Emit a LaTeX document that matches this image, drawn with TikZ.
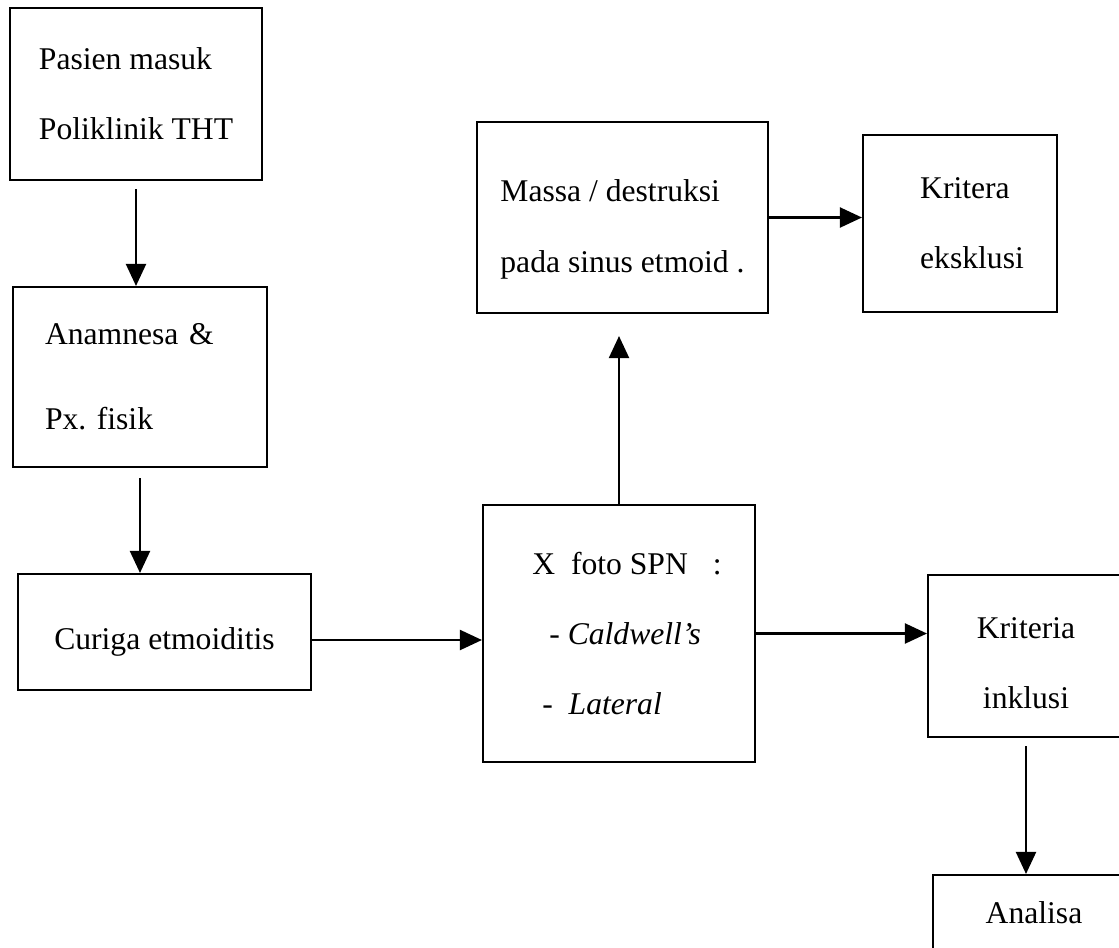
\documentclass[tikz,border=0pt]{standalone}
\usepackage{fontspec}
\setmainfont{Liberation Serif}
\usetikzlibrary{arrows.meta}
\begin{document}
\begin{tikzpicture}[x=0.02cm, y=-0.02cm,
    kotak/.style 2 args={draw, line width=1.2pt, inner sep=0pt,
      minimum width=#1*0.02cm, minimum height=#2*0.02cm,
      font=\fontsize{18}{40}\selectfont},
    panah/.style={-{Triangle[length=0.44cm,width=0.4cm]}, line width=1.2pt}]
    \useasboundingbox (0,0) rectangle (1119,947);
    \clip (0,0) rectangle (1119,947);
    \node[kotak={252}{172}, align=left] (A0_0) at (136,94) {Pasien masuk\\Poliklinik THT};
    \node[kotak={254}{180}, align=left, text width=3.8cm] (A1_0) at (140,377) {Anamnesa \&\\[0.3cm]Px.\ fisik};
    \node[kotak={293}{116}] (A2_0) at (164.5,632) {\rule{0pt}{0.83cm}Curiga etmoiditis};
    \node[kotak={272}{257}, align=left] (A2_1) at (619,633.5) {\hspace{0.32cm}X\ \ foto SPN\hspace{0.5cm}:\\
      \hspace{0.66cm}\textit{- Caldwell's}\\
      \hspace{0.52cm}-\ \ \textit{Lateral}};
    \node[kotak={291}{191}, align=left] (A0_1) at (622.5,217.5) {\rule{0pt}{0.91cm}Massa / destruksi\\pada sinus etmoid .};
    \node[kotak={194}{177}, align=left] (A0_2) at (960,223.5) {\hspace{0.48cm}Kritera\\\hspace{0.48cm}eksklusi};
    \node[kotak={196}{162}, align=center] (A2_2) at (1026,656) {\rule{0pt}{0.71cm}Kriteria\\inklusi};
    \node[kotak={202}{76}] (A3_2) at (1034,913) {Analisa};
    \path (A0_0.south) edge [panah, shorten <=0.16cm] (A0_0.south |- A1_0.north);
    \path (A1_0.south) edge [panah, shorten <=0.2cm] (A1_0.south |- A2_0.north);
    \path ([yshift=-0.16cm]A2_0.east) edge [panah] ([yshift=-0.16cm]A2_0.east -| A2_1.west);
    \path (A2_1.north) edge [panah, shorten >=0.44cm] (A2_1.north |- A0_1.south);
    \path (A0_1.east) edge [panah] (A0_1.east -| A0_2.west);
    \path (A2_1.east) edge [panah] (A2_1.east -| A2_2.west);
    \path (A2_2.south) edge [panah, shorten <=0.16cm] (A2_2.south |- A3_2.north);
\end{tikzpicture}
\end{document}
